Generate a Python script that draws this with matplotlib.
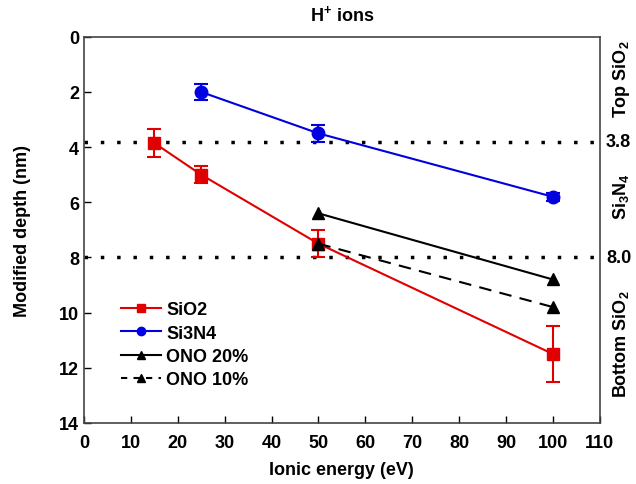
import matplotlib
matplotlib.use("Agg")
import matplotlib.pyplot as plt
from matplotlib.lines import Line2D

plt.rcParams['font.family'] = ['Liberation Sans', 'DejaVu Sans']
plt.rcParams['font.weight'] = 'bold'
plt.rcParams['mathtext.fontset'] = 'custom'
plt.rcParams['mathtext.rm'] = 'Liberation Sans:bold'
plt.rcParams['mathtext.it'] = 'Liberation Sans:bold'
plt.rcParams['mathtext.bf'] = 'Liberation Sans:bold'
plt.rcParams['mathtext.default'] = 'rm'

sio2_x = [15, 25, 50, 100]
sio2_y = [3.85, 5.0, 7.5, 11.5]
sio2_err = [0.5, 0.3, 0.5, 1.0]

si3n4_x = [25, 50, 100]
si3n4_y = [2.0, 3.5, 5.8]
si3n4_err = [0.3, 0.3, 0.15]

ono20_x = [50, 100]
ono20_y = [6.4, 8.8]
ono10_x = [50, 100]
ono10_y = [7.5, 9.8]

boundaries = [3.8, 8.0]
boundary_labels = ["3.8", "8.0"]

fig = plt.figure(figsize=(6.36, 4.85), dpi=100)
ax = fig.add_axes([0.132, 0.126, 0.811, 0.796])

for b in boundaries:
    ax.axhline(b, color='black', linestyle=(0, (1, 3.7)), linewidth=2.5, zorder=1)

ax.errorbar(sio2_x, sio2_y, yerr=sio2_err, color='#e00000', marker='s', markersize=8,
            linewidth=1.5, capsize=4.7, capthick=1.5, elinewidth=1.5, label='SiO2', zorder=3)
ax.errorbar(si3n4_x, si3n4_y, yerr=si3n4_err, color='#0000e0', marker='o', markersize=9,
            linewidth=1.5, capsize=4.7, capthick=1.5, elinewidth=1.5, label='Si3N4', zorder=3)
ax.plot(ono20_x, ono20_y, color='black', marker='^', markersize=9, linewidth=1.5, label='ONO 20%', zorder=4)
ax.plot(ono10_x, ono10_y, color='black', marker='^', markersize=9, linewidth=1.5,
        linestyle=(0, (6, 4)), label='ONO 10%', zorder=4)

ax.set_xlim(0, 110)
ax.set_ylim(14, 0)
ax.set_xticks(range(0, 111, 10))
ax.set_yticks(range(0, 15, 2))
ax.tick_params(direction='in', length=5, width=1, labelsize=13, top=False, right=False)
ax.tick_params(axis='x', pad=8)
for lbl in ax.get_xticklabels() + ax.get_yticklabels():
    lbl.set_fontweight('bold')
for s in ax.spines.values():
    s.set_color('#444444')
    s.set_linewidth(1.2)

ax.set_xlabel('Ionic energy (eV)', fontsize=13, fontweight='bold', labelpad=7)
ax.set_ylabel('Modified depth (nm)', fontsize=13, fontweight='bold', labelpad=20)
ax.set_title('H$^{+}$ ions', fontsize=13, fontweight='bold', pad=12)

for b, t in zip(boundaries, boundary_labels):
    ax.text(1.012, b, t, transform=ax.get_yaxis_transform(), fontsize=13,
            fontweight='bold', va='center', ha='left')

ax.text(1.042, 1.5, 'Top SiO$_2$', transform=ax.get_yaxis_transform(), rotation=90,
        fontsize=13, fontweight='bold', va='center', ha='center')
ax.text(1.042, 5.75, 'Si$_3$N$_4$', transform=ax.get_yaxis_transform(), rotation=90,
        fontsize=13, fontweight='bold', va='center', ha='center')
ax.text(1.042, 11.1, 'Bottom SiO$_2$', transform=ax.get_yaxis_transform(), rotation=90,
        fontsize=13, fontweight='bold', va='center', ha='center')

handles = [
    Line2D([], [], color='#e00000', marker='s', markersize=6, linewidth=1.5),
    Line2D([], [], color='#0000e0', marker='o', markersize=6, linewidth=1.5),
    Line2D([], [], color='black', marker='^', markersize=6, linewidth=1.5),
    Line2D([], [], color='black', marker='^', markersize=6, linewidth=1.5, linestyle=(0, (3, 3))),
]
leg = ax.legend(handles, ['SiO2', 'Si3N4', 'ONO 20%', 'ONO 10%'], loc='upper left',
                bbox_to_anchor=(0.04, 0.357), frameon=False, fontsize=13,
                handlelength=2.2, handletextpad=0.3, labelspacing=0.35)
for t in leg.get_texts():
    t.set_fontweight('bold')

fig.savefig('out.png', dpi=100)
